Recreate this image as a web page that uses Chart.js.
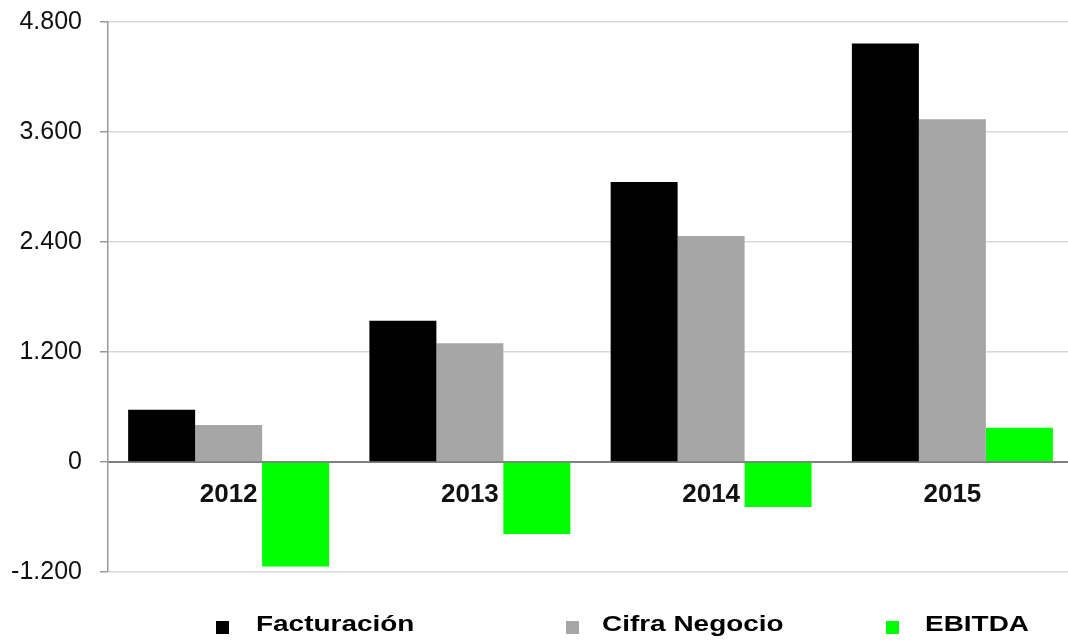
<!DOCTYPE html>
<html>
<head>
<meta charset="utf-8">
<script src="https://cdn.jsdelivr.net/npm/chart.js@4.4.1/dist/chart.umd.min.js"></script>
<style>
  html, body { margin: 0; padding: 0; overflow: hidden; background: #fff; }
  #wrap { position: relative; width: 1075px; height: 641px; }
  .box { position: absolute; width: 13px; height: 13px; top: 621px; }
  .lbl { position: absolute; top: 613px; font: bold 22px 'Liberation Sans', Arial, sans-serif;
         line-height: 22px; color: #000; white-space: nowrap;
         transform: scaleX(1.27); transform-origin: left center; }
</style>
</head>
<body>
<div id="wrap">
  <canvas id="chart" width="1075" height="641"></canvas>
  <div id="legend"></div>
</div>
<script>
const years = ['2012', '2013', '2014', '2015'];
const seriesNames = ['Facturación', 'Cifra Negocio', 'EBITDA'];
const facturacion = [570, 1540, 3055, 4565];
const cifraNegocio = [405, 1295, 2465, 3740];
const ebitda = [-1140, -785, -490, 375];
const yTicks = [-1200, 0, 1200, 2400, 3600, 4800];
const colors = ['#000000', '#a6a6a6', '#00ff00'];

// legend layout (square x, text x)
const legendPos = [[216, 256], [566, 602], [886, 925]];

function fmt(v) {
    let s = Math.abs(v).toString().replace(/\B(?=(\d{3})+(?!\d))/g, '.');
    return (v < 0 ? '-' : '') + s;
}

const series = [facturacion, cifraNegocio, ebitda];

const ctx = document.getElementById('chart').getContext('2d');
const chart = new Chart(ctx, {
    type: 'bar',
    data: {
        labels: years,
        datasets: series.map((d, i) => ({
            label: seriesNames[i],
            data: d,
            backgroundColor: colors[i],
            borderWidth: 0,
            barPercentage: 1,
            categoryPercentage: 0.833
        }))
    },
    options: {
        responsive: false,
        animation: false,
        layout: { padding: { top: 22, right: 2, bottom: 69, left: 0 } },
        plugins: { legend: { display: false }, tooltip: { enabled: false } },
        scales: {
            x: {
                position: { y: 0 },
                afterFit: s => { s.height = 0; },
                grid: { display: false, drawTicks: false },
                border: { display: true, color: '#7f7f7f', width: 2 },
                ticks: {
                    color: '#111', padding: 17,
                    font: { family: 'Liberation Sans', size: 26, weight: 'bold' }
                }
            },
            y: {
                min: yTicks[0], max: yTicks[yTicks.length - 1],
                afterBuildTicks: s => { s.ticks = yTicks.map(v => ({ value: v })); },
                afterFit: s => { s.width = 108; s.paddingTop = 10; s.paddingBottom = 10; },
                grid: {
                    color: c => (c.tick && c.tick.value === 0) ? '#7f7f7f' : '#d9d9d9',
                    lineWidth: 1.5,
                    tickLength: 8,
                    tickColor: '#999'
                },
                border: { color: '#999', width: 1.5 },
                ticks: {
                    color: '#111', padding: 18,
                    font: { family: 'Liberation Sans', size: 25 },
                    callback: v => fmt(v)
                }
            }
        }
    }
});

// html legend
const legend = document.getElementById('legend');
seriesNames.forEach((name, i) => {
    let box = document.createElement('div');
    box.className = 'box';
    box.style.left = legendPos[i][0] + 'px';
    box.style.background = colors[i];
    legend.appendChild(box);
    let lbl = document.createElement('div');
    lbl.className = 'lbl';
    lbl.style.left = legendPos[i][1] + 'px';
    lbl.textContent = name;
    legend.appendChild(lbl);
});
</script>
</body>
</html>
